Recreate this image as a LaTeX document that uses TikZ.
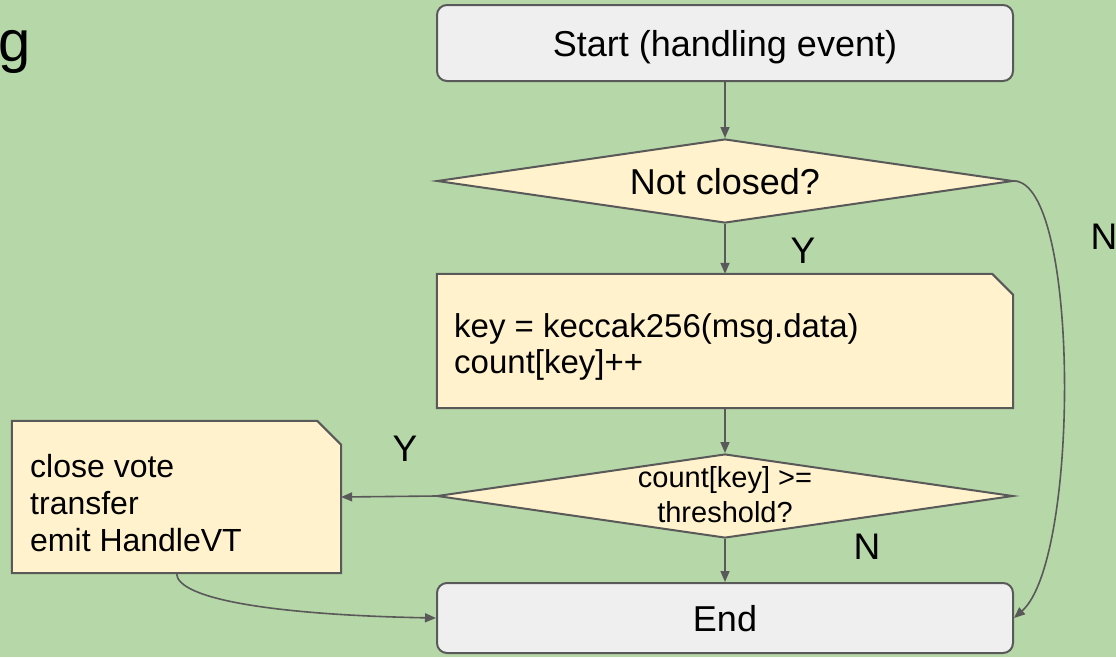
\documentclass[tikz,border=0pt]{standalone}
\usepackage{fontspec}
\setmainfont{Liberation Sans}
\usetikzlibrary{arrows.meta,shapes.geometric,backgrounds,positioning}
\definecolor{bggreen}{HTML}{B6D7A8}
\definecolor{notefill}{HTML}{FFF2CC}
\definecolor{termfill}{HTML}{EFEFEF}
\definecolor{edgegray}{HTML}{595959}
\tikzset{
  term/.style={draw=edgegray, line width=2pt, fill=termfill, rounded corners=10pt, minimum width=576pt, inner sep=0pt, text height=26pt, text depth=0pt, font=\fontsize{36}{40}\selectfont},
  test/.style={diamond, draw=edgegray, line width=2pt, fill=notefill, aspect=6.86, minimum width=576pt, minimum height=84pt, inner sep=0pt, text height=26pt, text depth=0pt, font=\fontsize{36}{40}\selectfont},
  notebox/.style={rectangle, inner sep=0pt},
  flow/.style={draw=edgegray, line width=1.6pt, -{Triangle[length=11pt,width=9pt]}},
  lbl/.style={inner sep=0pt, text height=26.5pt, text depth=0pt, font=\fontsize{37}{40}\selectfont},
}
\begin{document}
\begin{tikzpicture}[x=1pt,y=-1pt]
  \useasboundingbox (0,0) rectangle (1116,657);
  \node[anchor=base west, inner sep=0pt, font=\fontsize{58}{64}\selectfont] (title) at (-2,61) {g};

  \node[term, minimum height=76pt] (start) at (725,43) {Start (handling event)};
  \node[test] (q1) at (725,181) {Not closed?};
  \node[notebox, minimum width=576pt, minimum height=134pt] (hash) at (725,341) {};
  \node[test] (q2) at (725,496) {};
  \node[term, minimum height=70pt] (end) at (725,618) {End};
  \node[notebox, minimum width=329pt, minimum height=152pt] (act) at (176.5,497) {};

  % box texts, line by line
  \foreach \y/\t/\n in {337/key = keccak256(msg.data)/hashA, 373/count[key]++/hashB}
    {\node[anchor=base west, inner sep=0pt, font=\fontsize{33}{36}\selectfont] (\n) at (454,\y) {\t};}
  \foreach \y/\t/\n in {477/close vote/actA, 514/transfer/actB, 551/emit HandleVT/actC}
    {\node[anchor=base west, inner sep=0pt, font=\fontsize{32}{36}\selectfont] (\n) at (30,\y) {\t};}
  \foreach \y/\t/\n in {487/count[key] >=/qA, 522/threshold?/qB}
    {\node[anchor=base, inner sep=0pt, font=\fontsize{29}{34}\selectfont] (\n) at (725,\y) {\t};}

  % Y / N labels
  \foreach \x/\y/\t/\n in {803/250/Y/yes1, 1104/236/N/no1, 405/448/Y/yes2, 867/546/N/no2}
    {\node[lbl] (\n) at (\x,\y) {\t};}

  \draw[flow] (start) -- (q1);
  \draw[flow] (q1) -- (hash);
  \draw[flow] (hash) -- (q2);
  \draw[flow] (q2) -- (end);
  \draw[flow] (q2.west) -- (act.east);
  \draw[flow] (q1.east) .. controls (1080,182) and (1080,560) .. (end.east);
  \draw[flow] (act.south) .. controls (177,600) and (280,615) .. (end.west);

  \begin{scope}[on background layer]
    \fill[bggreen] (0,0) rectangle (1116,657);
    \foreach \n/\c in {hash/21pt, act/24pt}
      {\draw[draw=edgegray, line width=2pt, fill=notefill] (\n.north west) -- ([xshift=-\c]\n.north east) -- ([yshift=-\c]\n.north east) -- (\n.south east) -- (\n.south west) -- cycle;}
  \end{scope}
\end{tikzpicture}
\end{document}
